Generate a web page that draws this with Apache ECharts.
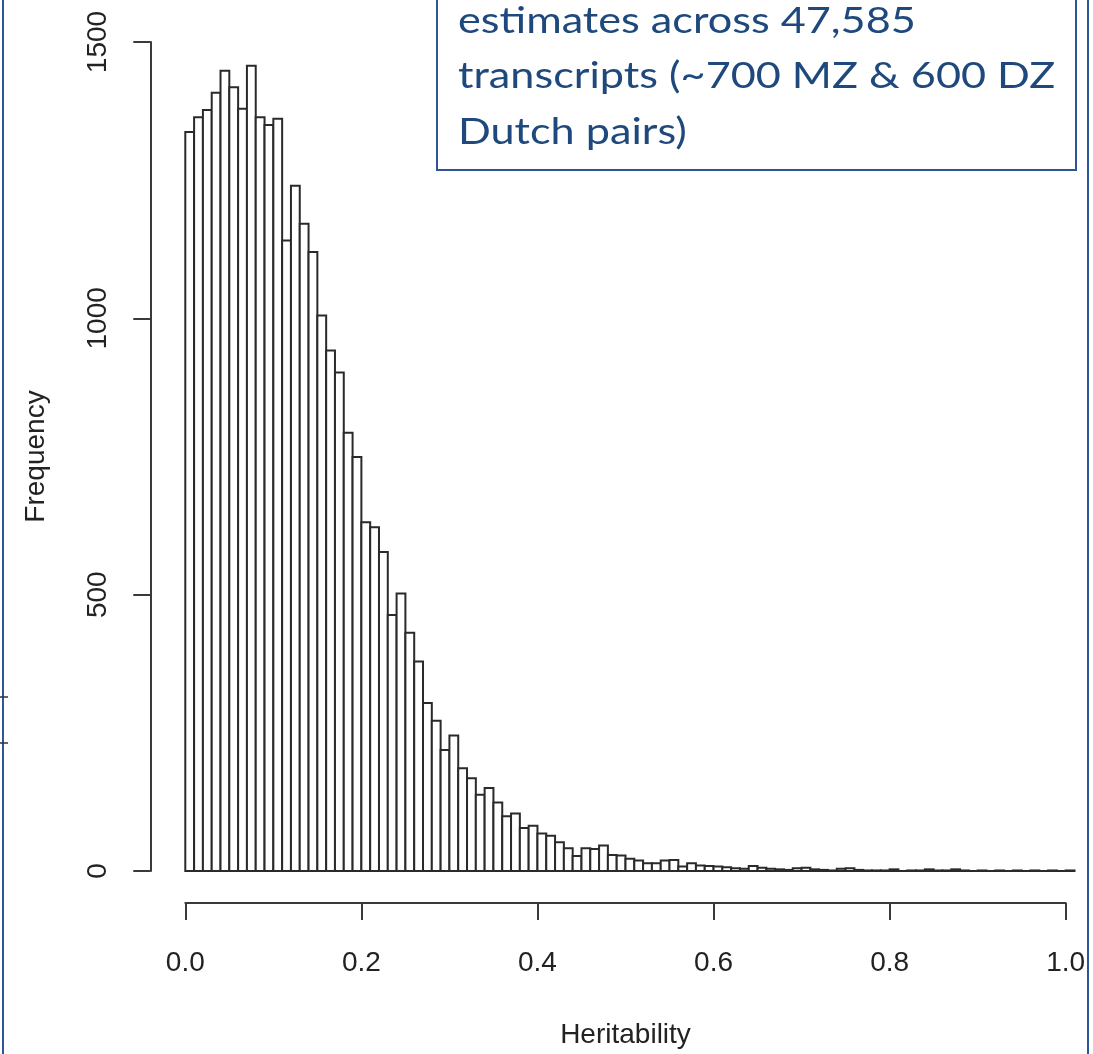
<!DOCTYPE html>
<html>
<head>
<meta charset="utf-8">
<script src="https://cdn.jsdelivr.net/npm/echarts@6/dist/echarts.min.js"></script>
<style>html,body{margin:0;padding:0;background:#fff}#c{width:1093px;height:1054px}</style>
</head>
<body>
<div id="c"></div>
<script>
// Histogram of heritability estimates: bins of width 0.01 starting at 0
const binWidth = 0.01;
const counts = [
  1337, 1364, 1377, 1408, 1448, 1418, 1379, 1457, 1364, 1350,
  1361, 1141, 1240, 1171, 1120, 1005, 942, 902, 793, 749,
  631, 622, 577, 463, 502, 431, 379, 304, 272, 219,
  245, 186, 168, 138, 150, 124, 99, 104, 78, 82,
  68, 64, 52, 41, 27, 41, 40, 46, 29, 28,
  22, 19, 14, 14, 19, 20, 8, 14, 10, 9,
  8, 7, 5, 4, 9, 6, 4, 3, 2, 5,
  6, 3, 2, 1, 4, 5, 2, 1, 1, 1,
  3, 0, 1, 1, 3, 1, 1, 3, 1, 0,
  1, 0, 1, 0, 1, 0, 1, 0, 1, 0,
  1
];
const xTicks = [0, 0.2, 0.4, 0.6, 0.8, 1.0];
const yTicks = [0, 500, 1000, 1500];
const boxLines = [
  'estimates across 47,585',
  'transcripts (~700 MZ & 600 DZ',
  'Dutch pairs)'
];
const xTitle = 'Heritability';
const yTitle = 'Frequency';

const data = counts.map((c, i) => [i * binWidth, (i + 1) * binWidth, c]);

const chart = echarts.init(document.getElementById('c'), null, {renderer: 'canvas'});
const axisColor = '#3a3a3a';
const labelFont = {fontFamily: '"Liberation Sans", Arial, sans-serif', fontSize: 28, color: '#222'};

const option = {
  backgroundColor: '#fff',
  animation: false,
  grid: {left: 185.3, right: 27.3, top: 42, bottom: 181.5, containLabel: false},
  xAxis: {
    type: 'value', min: xTicks[0], max: xTicks[xTicks.length - 1], interval: 0.2,
    offset: 32,
    axisLine: {show: true, onZero: false, lineStyle: {color: axisColor, width: 2}},
    axisTick: {show: true, inside: false, length: 17, lineStyle: {color: axisColor, width: 2}},
    splitLine: {show: false},
    axisLabel: Object.assign({margin: 46, formatter: v => v.toFixed(1)}, labelFont),
    name: xTitle, nameLocation: 'middle', nameGap: 118,
    nameTextStyle: labelFont
  },
  yAxis: {
    type: 'value', min: yTicks[0], max: yTicks[yTicks.length - 1], interval: 500,
    offset: 35,
    axisLine: {show: true, onZero: false, lineStyle: {color: axisColor, width: 2}},
    axisTick: {show: true, inside: false, length: 17, lineStyle: {color: axisColor, width: 2}},
    splitLine: {show: false},
    axisLabel: Object.assign({margin: 38, rotate: 90, formatter: v => String(v)}, labelFont),
    name: yTitle, nameLocation: 'middle', nameGap: 100, nameRotate: 90,
    nameTextStyle: labelFont
  },
  series: [{
    type: 'custom',
    clip: false,
    encode: {x: [0, 1], y: 2},
    data: data,
    renderItem: function (params, api) {
      const p0 = api.coord([api.value(0), 0]);
      const p1 = api.coord([api.value(1), api.value(2)]);
      return {
        type: 'rect',
        shape: {x: p0[0], y: p1[1], width: p1[0] - p0[0], height: p0[1] - p1[1]},
        style: {fill: '#ffffff', stroke: '#2a2a2a', lineWidth: 2}
      };
    }
  }],
  graphic: [
    {type: 'line', shape: {x1: 3, y1: 0, x2: 3, y2: 1054}, style: {stroke: '#2F5597', lineWidth: 2}},
    {type: 'line', shape: {x1: 1088, y1: 0, x2: 1088, y2: 1054}, style: {stroke: '#2F5597', lineWidth: 2}},
    {type: 'line', shape: {x1: 0, y1: 697, x2: 8, y2: 697}, style: {stroke: '#333', lineWidth: 1.5}},
    {type: 'line', shape: {x1: 0, y1: 743, x2: 8, y2: 743}, style: {stroke: '#333', lineWidth: 1.5}},
    {type: 'rect', shape: {x: 437, y: -10, width: 639, height: 180},
     style: {fill: '#ffffff', stroke: '#2F5597', lineWidth: 2}, z: 10},
    ...boxLines.map((t, i) => ({
      type: 'text', z: 11, x: 458, y: 21 + i * 55.5, scaleX: 1.2,
      style: {text: t, fill: '#1F497D', font: '36px Lato, "Open Sans", sans-serif',
              textAlign: 'left', textVerticalAlign: 'middle'}
    }))
  ]
};
chart.setOption(option);
</script>
</body>
</html>
